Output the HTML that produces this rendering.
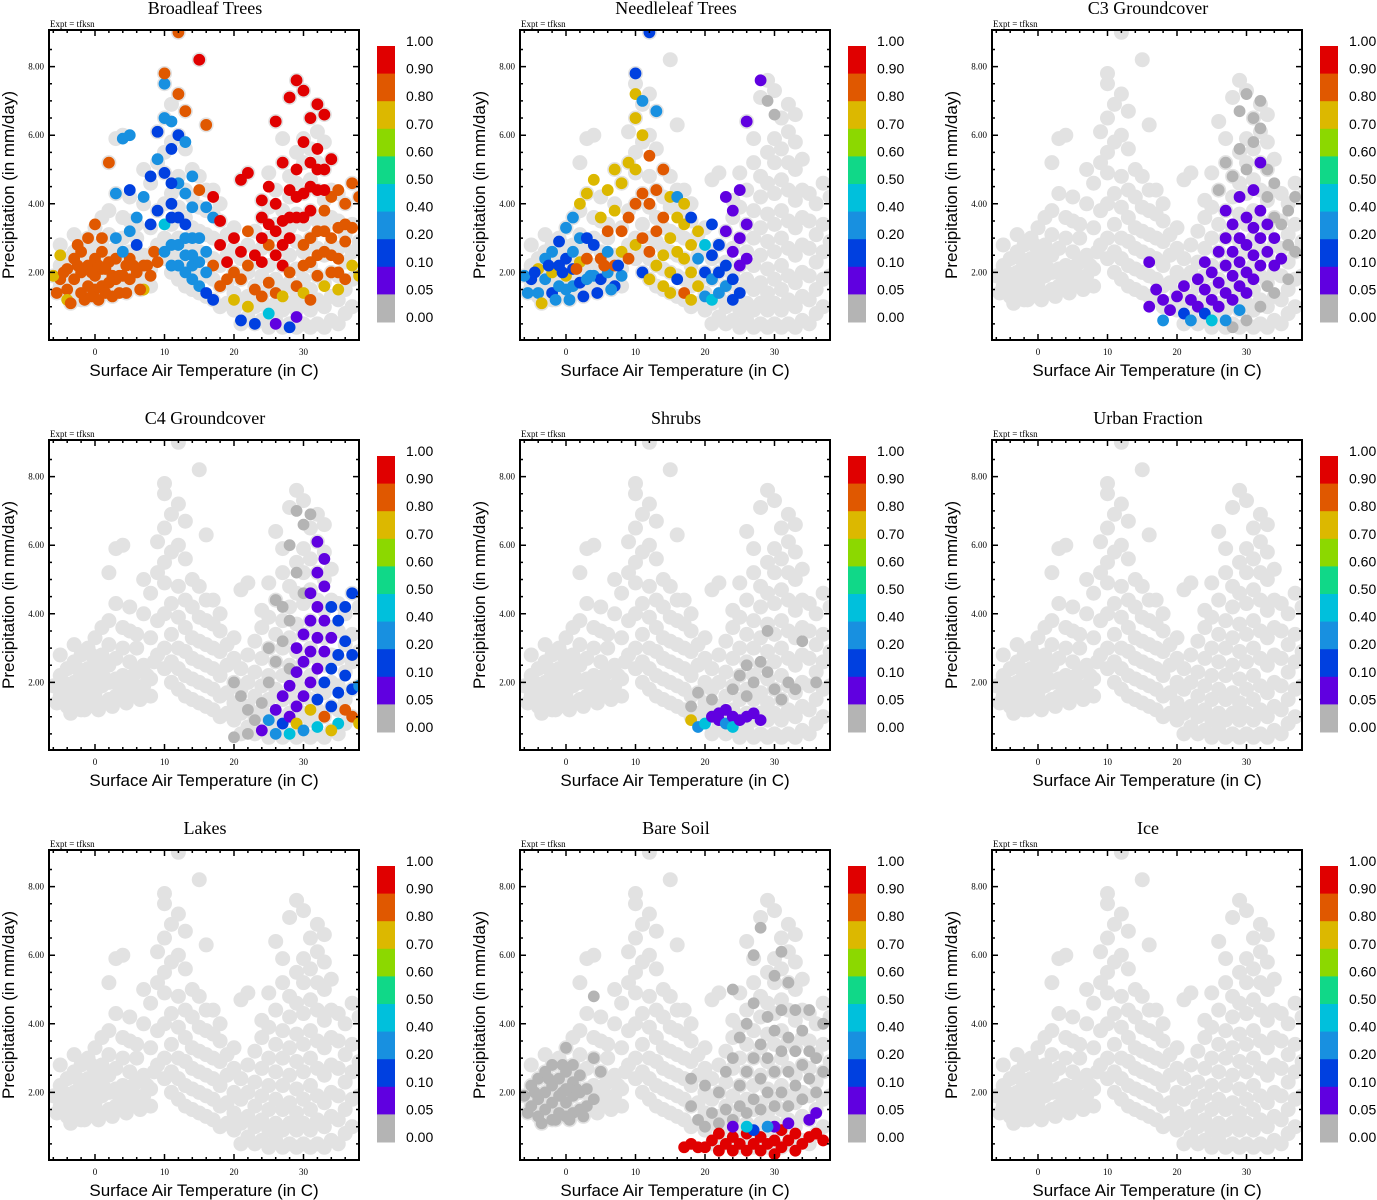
<!DOCTYPE html>
<html><head><meta charset="utf-8"><style>
body{margin:0;background:#fff;}
svg{display:block;}
.ser{font-family:"Liberation Serif",serif;}
.san{font-family:"Liberation Sans",sans-serif;}
</style></head><body>
<svg id="chart" width="1377" height="1200" xmlns="http://www.w3.org/2000/svg"></svg>
<script>
const titles=["Broadleaf Trees","Needleleaf Trees","C3 Groundcover","C4 Groundcover","Shrubs","Urban Fraction","Lakes","Bare Soil","Ice"];
const xTicks=[0,10,20,30];
const yTicks=[2,4,6,8];
const yTickLabels=["2.00","4.00","6.00","8.00"];
const cbLabels=["1.00","0.90","0.80","0.70","0.60","0.50","0.40","0.20","0.10","0.05","0.00"];
const cbColors=["#e00000","#e05800","#dcb800","#8cd800","#10d888","#00c0dc","#1890e0","#0040e0","#6000e0","#b4b4b4"];
const cbThresh=[0.9,0.8,0.7,0.6,0.5,0.4,0.2,0.1,0.05,-1];
const base=[[-6,1.9],[-5,1.6],[-5,2.2],[-4,1.3],[-4,1.8],[-4,2.4],[-3,1.5],[-3,2.0],[-3,2.6],[-2,1.2],[-2,1.7],[-2,2.2],[-2,2.8],[-1,1.4],[-1,1.9],[-1,2.4],[-1,3.0],[0,1.3],[0,1.7],[0,2.1],[0,2.6],[0,3.3],[1,1.4],[1,1.9],[1,2.3],[1,2.8],[2,1.5],[2,2.0],[2,2.5],[2,3.1],[3,1.6],[3,2.1],[3,2.7],[4,1.7],[4,2.2],[4,3.0],[5,1.6],[5,2.0],[5,2.6],[6,1.8],[6,2.3],[7,1.9],[7,2.5],[8,1.6],[8,2.1],[-5,2.8],[-3,3.1],[1,3.6],[3,4.3],[4,3.6],[2,5.2],[3,5.9],[4,6.0],
[-5.5,1.4],[-4.5,2.0],[-3.5,1.1],[-2.5,2.4],[-1.5,1.2],[-0.5,2.0],[0.5,1.2],[1.5,2.1],[2.5,1.3],[3.5,1.9],[4.5,1.4],[5.5,2.2],[6.5,1.5],[7.5,2.2],[8.5,2.6],[6,3.0],[5,3.5],[2,3.8],[-0.5,2.8],
[5,4.2],[6,3.4],[7,4.0],[7,5.0],[8,4.6],[8,3.3],[9,2.8],[9,3.8],[9,5.2],[9,6.1],[10,2.4],[10,3.0],[10,4.0],[10,4.9],[10,5.5],[10,6.5],[10,7.5],[10,7.8],[11,2.0],[11,2.6],[11,3.4],[11,4.3],[11,5.8],[11,6.9],[12,1.8],[12,2.4],[12,3.0],[12,3.9],[12,4.8],[12,6.0],[12,7.2],[12,9.0],[13,1.6],[13,2.2],[13,2.9],[13,3.6],[13,4.4],[13,5.6],[13,6.7],[14,1.5],[14,2.1],[14,2.7],[14,3.3],[14,4.2],[14,5.0],[15,1.4],[15,2.0],[15,2.6],[15,3.2],[15,3.9],[15,4.8],[15,8.2],[16,1.3],[16,1.9],[16,2.5],[16,3.1],[16,3.8],[16,4.4],[16,6.3],[17,1.2],[17,1.8],[17,2.4],[17,3.0],[17,3.7],[17,4.4],[18,1.0],[18,1.6],[18,2.2],[18,2.9],[18,3.5],[18,4.0],[19,1.1],[19,1.7],[19,2.5],[19,3.1],[20,0.9],[20,1.4],[20,2.0],[20,2.7],[20,3.3],
[21,0.5],[21,1.1],[21,1.8],[21,2.4],[21,4.7],[22,0.7],[22,1.3],[22,2.0],[22,2.8],[22,4.9],[23,0.5],[23,1.0],[23,1.6],[23,2.3],[23,3.2],[24,0.6],[24,1.2],[24,1.9],[24,2.7],[24,3.6],[24,4.1],[25,0.4],[25,0.9],[25,1.5],[25,2.2],[25,3.0],[25,3.9],[25,4.9],[26,0.6],[26,1.1],[26,1.8],[26,2.6],[26,3.4],[26,4.4],[26,6.4],[27,0.4],[27,0.9],[27,1.5],[27,2.2],[27,3.0],[27,3.8],[27,5.2],[27,5.9],[28,0.5],[28,1.1],[28,1.7],[28,2.5],[28,3.3],[28,4.2],[28,4.8],[28,7.1],[29,0.4],[29,0.9],[29,1.4],[29,2.1],[29,2.9],[29,3.7],[29,4.6],[29,5.5],[29,7.6],[30,0.5],[30,1.1],[30,1.8],[30,2.6],[30,3.4],[30,4.3],[30,5.2],[30,5.9],[30,7.3],[31,0.4],[31,0.9],[31,1.5],[31,2.2],[31,3.0],[31,3.8],[31,4.7],[31,5.6],[31,6.5],[32,0.5],[32,1.2],[32,1.9],[32,2.7],[32,3.5],[32,4.4],[32,5.2],[32,6.1],[32,6.9],[33,0.4],[33,1.0],[33,1.7],[33,2.5],[33,3.3],[33,4.1],[33,5.0],[33,5.8],[33,6.6],[34,0.6],[34,1.3],[34,2.0],[34,2.8],[34,3.6],[34,4.4],[34,5.3],[35,0.5],[35,1.2],[35,1.9],[35,2.7],[35,3.5],[35,4.3],[36,0.8],[36,1.5],[36,2.3],[36,3.1],[36,4.0],[37,1.0],[37,1.8],[37,2.6],[37,3.4],[37,4.6],[38,1.9],[38,2.9],[38,4.2]];
const broadleaf=[[-5,1.8,.85],[-4,1.5,.85],[-4,2.1,.85],[-3,1.8,.85],[-3,2.4,.85],[-2,1.4,.85],[-2,2.0,.85],[-2,2.6,.85],[-1,1.6,.85],[-1,2.2,.85],[0,1.5,.85],[0,1.9,.85],[0,2.4,.85],[1,1.6,.85],[1,2.1,.85],[1,2.6,.85],[2,1.7,.85],[2,2.3,.85],[3,1.8,.85],[3,2.4,.85],[4,1.9,.85],[5,1.8,.85],[5,2.4,.85],[6,2.0,.85],[7,2.2,.85],[8,1.9,.85],[-6,1.9,.75],[-5,2.5,.75],[-4,1.2,.75],[-1,3.0,.85],[0,3.4,.85],[2,5.2,.85],[7,1.5,.75],[9,2.3,.85],[3,3.0,.25],[4,2.6,.25],[5,3.2,.25],[6,2.8,.15],
[-5.5,1.4,.85],[-4.5,2.0,.85],[-3.5,1.1,.85],[-2.5,2.2,.85],[-1.5,1.2,.85],[-0.5,2.0,.85],[-0.5,1.3,.85],[0.5,1.2,.85],[0.5,2.2,.85],[1.5,2.1,.85],[1.5,1.4,.85],[2.5,1.3,.85],[2.5,1.9,.85],[3.5,1.9,.85],[3.5,1.4,.85],[4.5,1.4,.85],[4.5,2.2,.85],[5.5,2.2,.85],[6.5,1.5,.85],[7.5,2.2,.85],[8.5,2.6,.85],[-2.5,2.8,.85],[1,3.0,.85],
[3,4.3,.25],[4,5.9,.35],[5,6.0,.35],[5,4.4,.15],[6,3.6,.25],[7,4.2,.25],[8,4.8,.15],[8,3.4,.15],[9,5.3,.25],[9,6.1,.15],[9,3.8,.15],[10,7.5,.35],[10,4.9,.15],[10,2.6,.35],[10,3.4,.45],[10,6.5,.25],[10,7.8,.85],[11,4.0,.15],[11,5.6,.15],[11,2.8,.25],[11,6.4,.25],[12,3.6,.15],[12,6.0,.15],[12,4.6,.25],[12,2.2,.25],[12,7.2,.85],[12,9.0,.85],[13,3.0,.25],[13,5.8,.35],[13,2.0,.35],[13,4.3,.25],[13,6.7,.85],[14,3.9,.35],[14,2.5,.25],[14,1.8,.25],[14,4.8,.35],[15,3.0,.25],[15,1.6,.25],[15,4.4,.85],[15,8.2,.95],[16,2.6,.25],[16,3.9,.25],[16,1.4,.15],[16,6.3,.85],[17,3.6,.25],[17,2.2,.85],[17,1.2,.15],[17,4.2,.95],[18,2.8,.95],[18,3.5,.95],[18,1.6,.85],
[11,2.2,.25],[12,2.8,.25],[13,2.5,.25],[14,2.2,.25],[15,2.3,.25],[16,2.0,.25],[14,3.0,.25],[13,3.4,.15],[11,3.6,.15],[11,4.6,.15],
[19,2.3,.95],[19,1.8,.85],[20,3.0,.95],[20,2.0,.85],[20,1.2,.75],[21,2.6,.95],[21,1.8,.85],[21,0.6,.15],[21,4.7,.95],[22,2.2,.85],[22,3.2,.85],[22,4.9,.95],[22,1.0,.75],[23,2.5,.95],[23,1.5,.85],[23,0.5,.15],[24,3.6,.95],[24,4.1,.95],[24,2.3,.95],[24,1.3,.85],[25,4.5,.95],[25,2.8,.85],[25,1.7,.85],[25,0.8,.45],[26,6.4,.95],[26,4.0,.95],[26,2.5,.95],[26,1.4,.85],[26,0.5,.05],[27,5.2,.95],[27,3.5,.95],[27,2.2,.95],[27,1.3,.75],[28,7.1,.95],[28,4.4,.95],[28,3.0,.95],[28,2.0,.85],[28,0.4,.1],[29,7.6,.95],[29,5.0,.95],[29,3.6,.95],[29,1.6,.85],[29,0.7,.05],[30,7.3,.95],[30,5.8,.95],[30,4.3,.95],[30,2.8,.85],[30,1.4,.75],[31,6.5,.95],[31,5.2,.95],[31,3.8,.95],[31,2.3,.85],[31,1.2,.85],[32,6.9,.95],[32,5.6,.95],[32,4.4,.95],[32,3.2,.85],[32,1.9,.85],[33,6.6,.95],[33,5.0,.95],[33,3.8,.85],[33,2.6,.85],[33,1.6,.75],[34,5.3,.95],[34,4.2,.85],[34,3.0,.85],[34,2.0,.85],[35,4.4,.85],[35,3.3,.85],[35,2.4,.85],[35,1.5,.75],[36,4.0,.85],[36,2.9,.85],[36,1.8,.85],[37,4.6,.85],[37,3.3,.85],[37,2.2,.75],[38,1.9,.75],[38,4.2,.85],
[24,3.0,.95],[26,3.2,.95],[28,3.6,.95],[29,4.2,.95],[30,3.6,.95],[31,4.5,.95],[31,3.0,.85],[32,5.0,.95],[32,2.5,.85],[33,4.4,.95],[33,3.2,.85],[34,2.5,.85],[35,2.0,.85],[36,3.4,.85],[30,2.2,.85],[27,2.8,.95],[25,3.4,.95]];
const needleleaf=[[-5,1.8,.15],[-4,1.4,.25],[-4,2.1,.7],[-3,1.8,.35],[-3,2.4,.25],[-2,1.4,.15],[-2,2.0,.7],[-2,2.6,.25],[-1,1.6,.25],[-1,2.2,.15],[0,1.5,.35],[0,1.9,.75],[0,2.4,.15],[1,1.6,.25],[1,2.1,.15],[1,2.6,.25],[2,1.7,.15],[2,2.3,.75],[2,3.0,.25],[3,1.8,.25],[3,2.4,.85],[4,1.9,.25],[4,2.8,.15],[5,1.8,.15],[5,2.4,.85],[6,2.0,.25],[6,2.6,.25],[7,2.2,.85],[7,1.6,.15],[8,1.9,.25],[8,2.6,.75],[-6,1.9,.25],[-1,2.9,.15],[0,3.3,.25],[1,3.6,.35],[3,3.0,.15],
[-5.5,1.4,.25],[-4.5,2.0,.15],[-3.5,1.1,.75],[-2.5,2.2,.15],[-1.5,1.2,.25],[-0.5,2.0,.15],[0.5,1.2,.25],[1.5,2.1,.85],[2.5,1.3,.15],[3.5,1.9,.25],[4.5,1.4,.15],[5.5,2.2,.85],[6.5,1.5,.25],[7.5,2.2,.15],
[2,4.0,.75],[3,4.3,.75],[4,4.7,.75],[5,3.6,.75],[6,4.4,.75],[6,3.2,.85],[7,5.0,.75],[7,3.8,.75],[8,4.6,.75],[8,3.2,.85],[9,5.2,.75],[9,3.6,.85],[9,2.4,.85],[10,7.8,.15],[10,6.5,.75],[10,5.0,.75],[10,4.0,.85],[10,2.8,.75],[10,7.2,.75],[11,6.0,.75],[11,4.3,.85],[11,3.0,.85],[11,2.0,.15],[11,7.0,.25],[12,9.0,.15],[12,5.4,.85],[12,4.0,.85],[12,2.6,.85],[12,1.8,.75],[13,6.7,.25],[13,4.4,.85],[13,3.2,.85],[13,2.2,.75],[14,5.0,.85],[14,3.6,.85],[14,2.5,.75],[14,1.6,.75],[15,4.2,.75],[15,3.0,.75],[15,2.0,.75],[15,1.4,.75],[16,3.6,.75],[16,2.6,.75],[16,1.8,.15],[16,4.2,.25],[17,3.4,.75],[17,2.4,.75],[17,1.4,.85],[17,4.0,.75],[18,2.8,.75],[18,2.0,.75],[18,1.2,.75],[18,3.6,.15],[19,2.4,.25],[19,1.6,.75],[19,3.2,.75],[20,2.0,.15],[20,1.3,.25],[20,2.8,.45],[21,1.8,.25],[21,2.5,.15],[21,3.4,.15],[21,1.2,.45],[22,2.0,.15],[22,1.4,.25],[22,2.8,.15],[23,2.2,.15],[23,1.6,.25],[23,3.2,.05],[24,1.8,.1],[24,2.6,.05],[24,3.8,.05],[24,1.2,.15],[25,2.2,.05],[25,3.0,.05],[25,4.4,.05],[25,1.4,.1],[26,2.4,.05],[26,3.4,.05],[26,6.4,.05],[28,7.6,.05],[23,4.2,.05],[29,7.0,0],[30,6.6,0]];
const c3=[[26,4.4,0],[27,5.2,0],[28,4.8,0],[29,5.6,0],[29,6.7,0],[30,5.0,0],[30,7.2,0],[31,5.8,0],[31,6.5,0],[32,6.2,0],[32,7.0,0],[33,5.0,0],[33,4.2,0],[34,3.6,0],[34,4.6,0],[35,3.4,0],[36,2.8,0],[36,3.8,0],[37,4.2,0],[28,0.4,0],[30,0.6,0],[32,1.0,0],[34,1.4,0],[36,1.8,0],[37,2.6,0],[33,1.6,0],
[16,2.3,.05],[16,1.0,.05],[17,1.5,.05],[18,0.6,.25],[18,1.2,.05],[19,0.9,.05],[20,1.3,.05],[21,0.8,.1],[21,1.6,.05],[22,0.6,.35],[22,1.2,.05],[23,1.0,.05],[23,1.8,.05],[24,0.8,.1],[24,1.5,.05],[24,2.3,.05],[25,1.2,.05],[25,2.0,.05],[25,0.6,.45],[26,1.0,.05],[26,1.7,.05],[26,2.6,.05],[27,1.4,.05],[27,2.2,.05],[27,3.0,.05],[27,3.8,.05],[28,1.2,.05],[28,1.9,.05],[28,2.6,.05],[28,3.4,.05],[29,1.6,.05],[29,2.3,.05],[29,3.0,.05],[29,4.2,.05],[30,1.4,.05],[30,2.0,.05],[30,2.8,.05],[30,3.6,.05],[31,1.8,.05],[31,2.5,.05],[31,3.3,.05],[31,4.4,.05],[32,2.2,.05],[32,3.0,.05],[32,3.8,.05],[32,5.2,.05],[33,2.6,.05],[33,3.4,.05],[34,2.2,.05],[34,3.0,.05],[35,2.4,.05],[29,0.9,.35],[27,0.6,.25]];
const c4=[[20,2.0,0],[21,1.6,0],[22,1.2,0],[23,0.9,0],[24,1.4,0],[25,2.0,0],[25,3.0,0],[26,2.6,0],[26,4.4,0],[27,3.2,0],[27,4.2,0],[28,2.4,0],[28,3.8,0],[28,6.0,0],[29,7.0,0],[29,5.2,0],[30,6.6,0],[30,4.6,0],[31,6.9,0],[22,0.5,0],[20,0.4,0],
[24,0.6,.05],[25,0.9,.25],[26,0.5,.35],[26,1.2,.05],[27,0.8,.15],[27,1.6,.05],[28,1.0,.05],[28,1.9,.05],[28,0.5,.45],[29,1.3,.05],[29,2.3,.05],[29,3.0,.05],[29,0.8,.7],[30,1.6,.05],[30,2.6,.05],[30,3.4,.05],[30,0.6,.25],[31,1.2,.75],[31,2.0,.05],[31,2.9,.05],[31,3.8,.05],[31,4.6,.05],[32,1.5,.15],[32,2.4,.05],[32,3.3,.05],[32,4.2,.05],[32,5.2,.05],[32,6.1,.05],[33,1.0,.85],[33,2.0,.15],[33,2.9,.05],[33,3.8,.05],[33,4.8,.05],[33,5.6,.05],[34,1.3,.15],[34,2.4,.15],[34,3.3,.05],[34,4.2,.15],[35,0.8,.45],[35,1.7,.15],[35,2.8,.15],[35,3.8,.15],[36,1.2,.85],[36,2.2,.15],[36,3.2,.15],[36,4.2,.15],[37,1.0,.85],[37,1.8,.15],[37,2.8,.15],[37,4.6,.15],[38,1.9,.25],[38,0.8,.7],[34,0.6,.7],[32,0.7,.45]];
const shrubs=[[18,1.3,0],[19,1.7,0],[21,1.5,0],[23,1.2,0],[24,1.8,0],[25,2.2,0],[26,1.6,0],[26,2.5,0],[27,2.0,0],[28,2.6,0],[29,2.3,0],[29,3.5,0],[30,1.8,0],[31,1.5,0],[32,2.0,0],[33,1.8,0],[36,2.0,0],[34,3.2,0],[21,1.0,0],
[18,0.9,.75],[19,0.7,.35],[20,0.8,.45],[21,1.0,.05],[22,0.9,.05],[22,1.1,.05],[23,0.8,.35],[24,1.0,.05],[24,0.7,.45],[25,0.9,.05],[26,1.0,.05],[27,1.1,.05],[28,0.9,.05],[23,1.2,.05]];
const urban=[];
const lakes=[];
const baresoil=[[-6,1.9,0],[-5,1.6,0],[-5,2.2,0],[-4,1.3,0],[-4,1.8,0],[-4,2.4,0],[-3,1.5,0],[-3,2.0,0],[-3,2.6,0],[-2,1.2,0],[-2,1.7,0],[-2,2.2,0],[-2,2.8,0],[-1,1.4,0],[-1,1.9,0],[-1,2.4,0],[0,1.3,0],[0,1.7,0],[0,2.1,0],[0,2.6,0],[0,3.3,0],[1,1.4,0],[1,1.9,0],[1,2.3,0],[1,2.8,0],[2,1.5,0],[2,2.0,0],[2,2.5,0],[3,1.6,0],[3,2.1,0],[4,1.8,0],[4,3.0,0],[5,2.6,0],[4,4.8,0],
[-5.5,1.4,0],[-4.5,2.0,0],[-3.5,1.1,0],[-2.5,2.4,0],[-1.5,1.2,0],[-0.5,2.0,0],[0.5,1.2,0],[1.5,2.1,0],[2.5,1.3,0],[-0.5,2.8,0],
[18,1.6,0],[18,2.4,0],[19,1.2,0],[20,1.0,0],[20,2.2,0],[21,1.4,0],[22,1.1,0],[22,2.0,0],[23,1.5,0],[23,2.6,0],[24,1.2,0],[24,3.0,0],[24,5.0,0],[25,1.6,0],[25,2.2,0],[25,3.6,0],[26,1.4,0],[26,2.6,0],[26,4.0,0],[27,1.8,0],[27,3.0,0],[27,4.6,0],[27,6.0,0],[28,1.5,0],[28,2.4,0],[28,3.4,0],[28,6.8,0],[29,2.0,0],[29,3.0,0],[29,4.2,0],[30,1.6,0],[30,2.6,0],[30,3.8,0],[30,5.4,0],[31,2.0,0],[31,3.2,0],[31,4.4,0],[31,6.1,0],[32,1.6,0],[32,2.6,0],[32,3.6,0],[32,5.2,0],[33,2.2,0],[33,3.2,0],[33,4.4,0],[34,1.8,0],[34,2.8,0],[34,3.8,0],[35,2.4,0],[35,3.2,0],[35,4.4,0],[36,2.0,0],[36,3.0,0],[37,2.6,0],[37,4.0,0],
[17,0.4,.95],[18,0.5,.95],[19,0.4,.95],[20,0.4,.95],[21,0.6,.95],[22,0.3,.95],[22,0.8,.95],[23,0.5,.95],[24,0.3,.95],[24,0.7,.95],[25,0.5,.95],[26,0.3,.95],[26,0.8,.95],[27,0.5,.95],[28,0.3,.95],[28,0.7,.95],[29,0.5,.95],[30,0.2,.95],[30,0.6,.95],[31,0.4,.95],[31,0.9,.95],[32,0.6,.95],[33,0.3,.95],[33,0.8,.95],[34,0.5,.95],[35,0.7,.95],[36,0.8,.95],[37,0.6,.95],[24,1.0,.05],[27,0.9,.1],[30,1.0,.05],[32,1.1,.05],[35,1.2,.05],[36,1.4,.05],[29,1.0,.35],[26,1.0,.45]];
const ice=[];
const panelData=[broadleaf,needleleaf,c3,c4,shrubs,urban,lakes,baresoil,ice];

const NS="http://www.w3.org/2000/svg";
const svg=document.getElementById('chart');
function mk(tag,attrs,parent,text){const e=document.createElementNS(NS,tag);for(const k in attrs)e.setAttribute(k,attrs[k]);if(text!==undefined)e.textContent=text;parent.appendChild(e);return e;}
const X0=49,X1=359,Y0=30,Y1=340;
function xs(t){return 95+t*6.95;}
function ys(p){return 341-p*34.3;}
function colorFor(v){for(let i=0;i<cbThresh.length;i++){if(v>=cbThresh[i])return cbColors[i];}return cbColors[9];}
function slug(s){return s.toLowerCase().replace(/[^a-z0-9]+/g,'-');}

titles.forEach((title,pi)=>{
  const ox=[0,471,943][pi%3], oy=Math.floor(pi/3)*410;
  const g=mk('g',{transform:`translate(${ox},${oy})`},svg);
  
  
  const tt=mk('text',{x:205,y:14,'text-anchor':'middle','font-size':18,class:'ser'},g,title);
  
  
  const ex=mk('text',{x:50,y:27,'font-size':9,class:'ser'},g,'Expt = tfksn');
  
  
  const cp='clip'+pi;
  const defs=mk('defs',{},g);const cl=mk('clipPath',{id:cp},defs);mk('rect',{x:X0,y:Y0,width:X1-X0,height:Y1-Y0},cl);
  const pts=mk('g',{'clip-path':`url(#${cp})`},g);
  
  
  base.forEach(d=>{const c=mk('circle',{cx:xs(d[0]),cy:ys(d[1]),r:7.5,fill:'#e2e2e2'},pts);
    
    });
  panelData[pi].forEach(d=>{const col=colorFor(d[2]);
    const c=mk('circle',{cx:xs(d[0]),cy:ys(d[1]),r:5,fill:col,stroke:col,'stroke-width':1.8},pts);
    
    });
  const box=mk('rect',{x:X0,y:Y0,width:X1-X0,height:Y1-Y0,fill:'none',stroke:'#000','stroke-width':2},g);
  
  
  let tk='';
  for(let t=-6;t<=38;t+=2){const x=xs(t);const L=(t%10===0)?6:3;tk+=`M${x},${Y1}v${-L}M${x},${Y0}v${L}`;}
  for(let p=0.5;p<9;p+=0.5){const y=ys(p);const L=(Math.abs(p%2)<1e-6)?6:3;tk+=`M${X0},${y}h${L}M${X1},${y}h${-L}`;}
  const tp=mk('path',{d:tk,stroke:'#000','stroke-width':1.5,fill:'none'},g);
  
  
  xTicks.forEach(t=>{const e=mk('text',{x:xs(t),y:355,'text-anchor':'middle','font-size':9,class:'ser'},g,String(t));
    
    });
  yTicks.forEach((p,i)=>{const e=mk('text',{x:44,y:ys(p)+3,'text-anchor':'end','font-size':9,class:'ser'},g,yTickLabels[i]);
    
    });
  const xt=mk('text',{x:204,y:376,'text-anchor':'middle','font-size':17,class:'san'},g,'Surface Air Temperature (in C)');
  
  
  const yt=mk('text',{x:0,y:0,'text-anchor':'middle','font-size':17,class:'san',transform:'translate(14,185) rotate(-90)'},g,'Precipitation (in mm/day)');
  
  
  const cb=mk('g',{},g);
  
  
  const segH=27.6;
  cbColors.forEach((c,i)=>{const r=mk('rect',{x:377,y:46+i*segH,width:18,height:segH+0.5,fill:c},cb);
    
    });
  cbLabels.forEach((l,i)=>{const e=mk('text',{x:406,y:46+i*segH,'font-size':14,class:'san'},cb,l);
    
    });
});
</script>
</body></html>
